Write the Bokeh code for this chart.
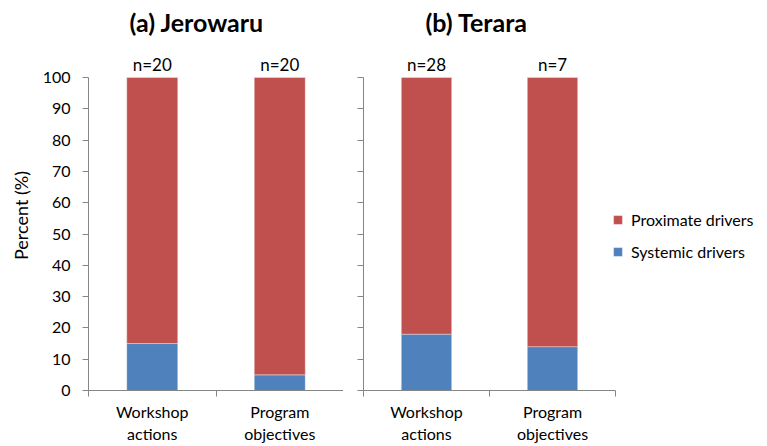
from bokeh.plotting import figure
from bokeh.layouts import row
from bokeh.models import ColumnDataSource, Range1d, FixedTicker, Legend, LegendItem
from bokeh.core.properties import value
from bokeh.embed import file_html
from bokeh.resources import INLINE

# Share of drivers addressed, per site and source
categories = ["Workshop\nactions", "Program\nobjectives"]
jerowaru_systemic = [15, 5]
jerowaru_proximate = [85, 95]
jerowaru_n = ["n=20", "n=20"]
terara_systemic = [18, 14]
terara_proximate = [82, 86]
terara_n = ["n=28", "n=7"]
y_ticks = list(range(0, 101, 10))

RED = "#C0504D"
BLUE = "#4F81BD"
AXIS = "#868686"
FONT = "Lato"

HEIGHT = 446
TOP = 40
BOTTOM = 56
Y100_PX = 77          # pixel row of the 100 % tick
Y0_PX = HEIGHT - BOTTOM
frame_h = HEIGHT - TOP - BOTTOM
y_top = 100 * frame_h / (Y0_PX - Y100_PX)


def make_panel(title, title_offset, systemic, proximate, n_labels,
               width, border_left, axis_px, y_labels):
    """One site panel; the axes span axis_px pixels, the frame may run wider."""
    ncat = len(categories)
    frame_w = width - border_left
    x_end = ncat * frame_w / axis_px
    x = [i + 0.5 for i in range(ncat)]
    src = ColumnDataSource(dict(
        x=x, systemic=systemic, proximate=proximate,
        top=[s + p for s, p in zip(systemic, proximate)], n=n_labels))

    p = figure(width=width, height=HEIGHT,
               x_range=Range1d(0, x_end), y_range=Range1d(0, y_top),
               min_border_left=border_left, min_border_right=0,
               min_border_top=TOP, min_border_bottom=BOTTOM,
               output_backend="svg", toolbar_location=None, title=title)
    p.title.align = "left"
    p.title.offset = title_offset
    p.title.standoff = 7
    p.title.text_font = FONT
    p.title.text_font_size = "25px"
    p.title.text_font_style = "bold"
    p.title.text_color = "black"

    p.grid.grid_line_color = None
    p.outline_line_color = None

    rs = p.vbar_stack(["systemic", "proximate"], x="x", width=0.4,
                      color=[BLUE, RED], source=src,
                      line_color="white", line_alpha=0.35)

    p.text(x="x", y="top", text="n", source=src, text_align="center",
           text_baseline="bottom", y_offset=-3, text_font=value(FONT),
           text_font_size="17px", text_color="black")

    ya = p.yaxis[0]
    ya.ticker = FixedTicker(ticks=y_ticks)
    ya.bounds = (0, 100)
    ya.axis_line_color = AXIS
    ya.major_tick_line_color = AXIS
    ya.major_tick_in = 0
    ya.major_tick_out = 6
    ya.minor_tick_line_color = None
    if y_labels:
        ya.major_label_text_font = FONT
        ya.major_label_text_font_size = "16px"
        ya.major_label_text_color = "black"
        ya.major_label_standoff = 12
        ya.axis_label = "Percent (%)"
        ya.axis_label_text_font = FONT
        ya.axis_label_text_font_size = "18px"
        ya.axis_label_text_font_style = "normal"
        ya.axis_label_text_color = "black"
        ya.axis_label_standoff = 8
    else:
        ya.major_label_overrides = {t: "" for t in y_ticks}
        ya.major_label_standoff = 0

    xa = p.xaxis[0]
    xa.ticker = FixedTicker(ticks=x, minor_ticks=list(range(ncat + 1)))
    xa.bounds = (0, ncat)
    xa.major_label_overrides = {xi: c for xi, c in zip(x, categories)}
    xa.axis_line_color = AXIS
    xa.major_tick_line_color = None
    xa.minor_tick_line_color = AXIS
    xa.minor_tick_in = 0
    xa.minor_tick_out = 6
    xa.major_label_text_font = FONT
    xa.major_label_text_font_size = "16px"
    xa.major_label_text_color = "black"
    xa.major_label_standoff = 5
    return p, rs


pa, _ = make_panel("(a) Jerowaru", 41, jerowaru_systemic, jerowaru_proximate,
                   jerowaru_n, 343, 88, 255, True)
pb, rb = make_panel("(b) Terara", 62, terara_systemic, terara_proximate,
                    terara_n, 424, 20, 252, False)

legend = Legend(items=[LegendItem(label="Proximate drivers", renderers=[rb[1]]),
                       LegendItem(label="Systemic drivers", renderers=[rb[0]])],
                location=(249, 129))
legend.glyph_width = 11
legend.glyph_height = 11
legend.label_standoff = 8
legend.spacing = 13
legend.padding = 3
legend.margin = 0
legend.border_line_color = None
legend.background_fill_alpha = 0
legend.label_text_font = FONT
legend.label_text_font_size = "16px"
legend.label_text_color = "black"
pb.add_layout(legend)

layout = row(pa, pb)
open("out.html", "w").write(file_html(layout, INLINE))
